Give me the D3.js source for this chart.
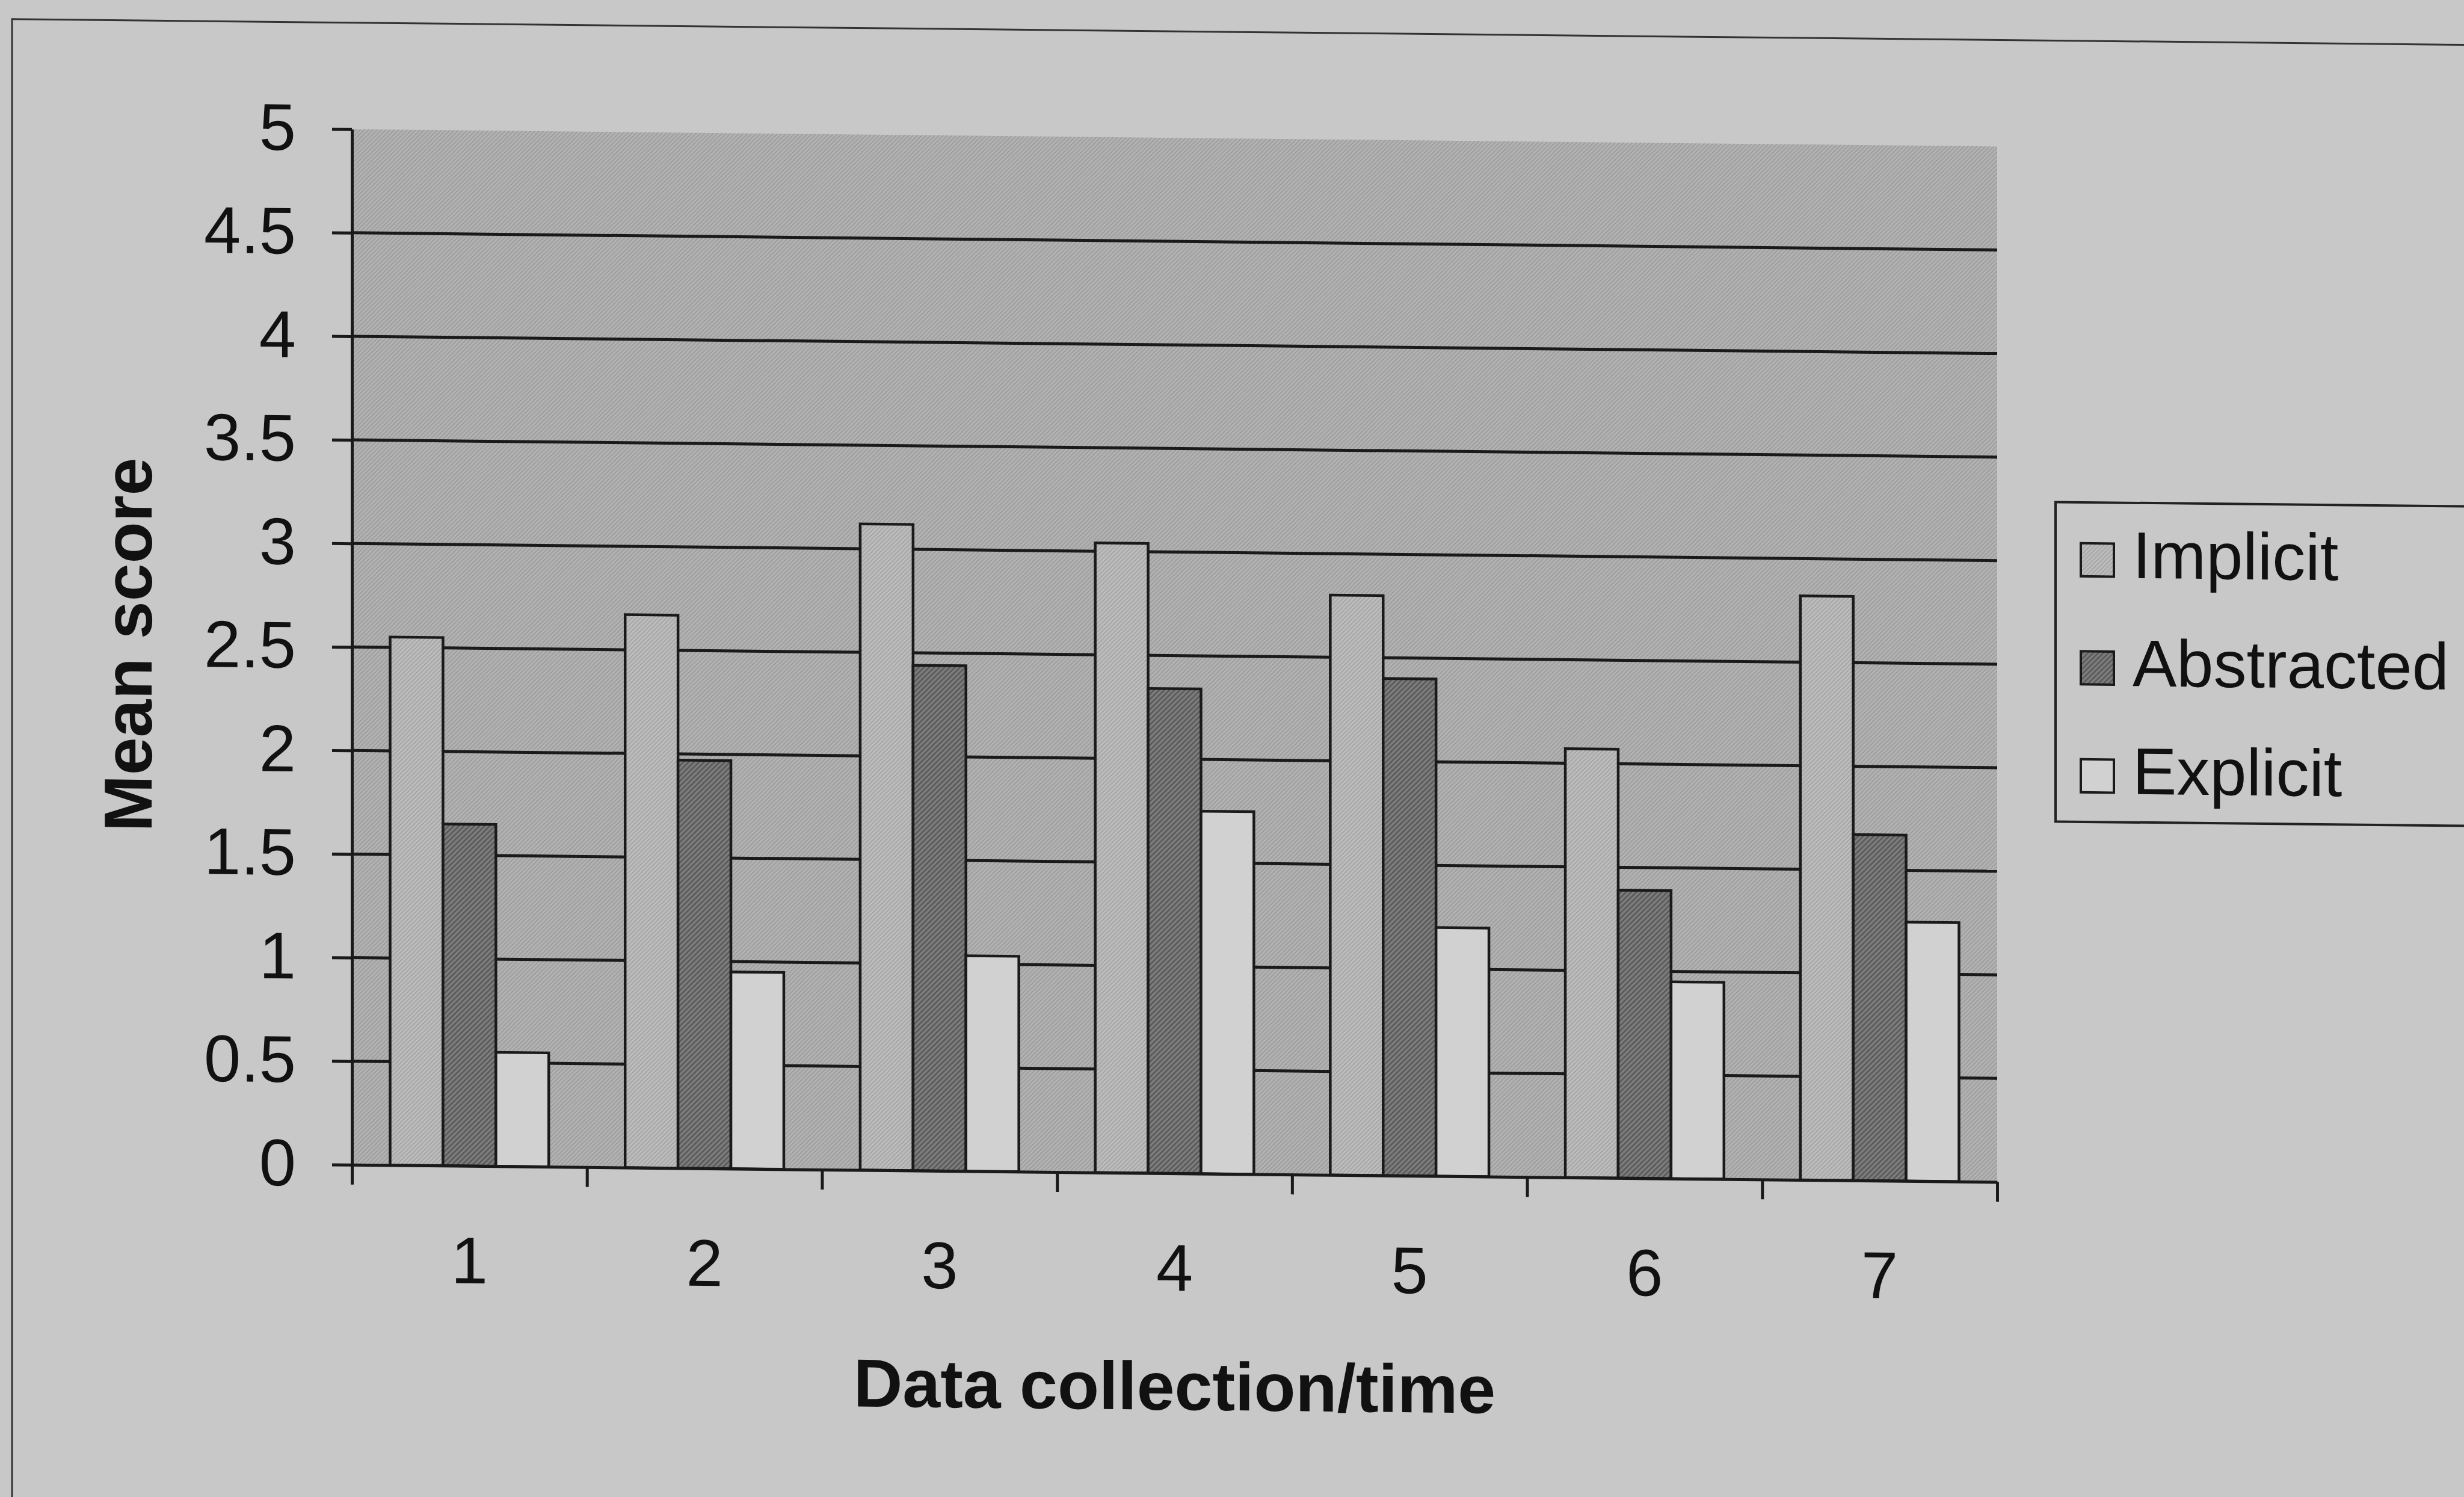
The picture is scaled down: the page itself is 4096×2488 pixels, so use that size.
<!DOCTYPE html>
<html>
<head>
<meta charset="utf-8">
<script src="https://cdn.jsdelivr.net/npm/d3@7/dist/d3.min.js"></script>
<style>
  html, body { margin: 0; padding: 0; background: #c8c8c8; overflow: hidden; }
  svg { display: block; }
</style>
</head>
<body>
<svg id="chart" width="4096" height="2488"></svg>
<script>
// Mean scores per data collection point, one array per series
const categories = ["1", "2", "3", "4", "5", "6", "7"];
const seriesNames = ["Implicit", "Abstracted", "Explicit"];
const implicitScores = [2.55, 2.67, 3.12, 3.04, 2.80, 2.07, 2.82];
const abstractedScores = [1.65, 1.97, 2.44, 2.34, 2.40, 1.39, 1.67];
const explicitScores = [0.55, 0.95, 1.04, 1.75, 1.20, 0.95, 1.25];
const yTickValues = [0, 0.5, 1, 1.5, 2, 2.5, 3, 3.5, 4, 4.5, 5];
const yTickLabels = ["0", "0.5", "1", "1.5", "2", "2.5", "3", "3.5", "4", "4.5", "5"];
const xTitle = "Data collection/time";
const yTitle = "Mean score";

const seriesValues = [implicitScores, abstractedScores, explicitScores];
const rows = categories.map((c, i) => ({
  cat: c,
  values: seriesNames.map((s, k) => ({ series: s, value: seriesValues[k][i] }))
}));

// Layout
const W = 4096, H = 2488;
const plot = { left: 585, right: 3320, top: 229, bottom: 1950 };
const FONT = "'Liberation Sans', Arial, Helvetica, sans-serif";
const INK = "#1a1a1a";
const skewDeg = 0.6;
const skewCx = 1946;

const svg = d3.select("#chart").attr("viewBox", `0 0 ${W} ${H}`);
const defs = svg.append("defs");

// Diagonal hatch fills
function hatch(id, base, line, lineW, gap) {
  const p = defs.append("pattern")
    .attr("id", id)
    .attr("patternUnits", "userSpaceOnUse")
    .attr("width", gap).attr("height", gap)
    .attr("patternTransform", "rotate(45)");
  p.append("rect").attr("width", gap).attr("height", gap).attr("fill", base);
  p.append("rect").attr("width", lineW).attr("height", gap).attr("fill", line);
}
hatch("plotFill", "#b2b2b2", "#9a9a9a", 1.6, 5);
hatch("implicitFill", "#bcbcbc", "#a2a2a2", 1.6, 5);
hatch("abstractedFill", "#7c7c7c", "#555555", 2.2, 6);
const seriesFill = {
  Implicit: "url(#implicitFill)",
  Abstracted: "url(#abstractedFill)",
  Explicit: "#d1d1d1"
};

const root = svg.append("g")
  .attr("transform", `translate(0,${-skewCx * Math.tan(skewDeg * Math.PI / 180)}) skewY(${skewDeg})`);

// Page background and outer frame
root.append("rect")
  .attr("x", -200).attr("y", -200).attr("width", W + 400).attr("height", H + 400)
  .attr("fill", "#c8c8c8");
root.append("rect")
  .attr("x", 20).attr("y", 52).attr("width", W + 200).attr("height", H + 200)
  .attr("fill", "none").attr("stroke", "#333").attr("stroke-width", 3);

// Scales
const x = d3.scaleBand().domain(categories).range([plot.left, plot.right]).padding(0);
const bw = x.bandwidth();
const xs = d3.scaleBand().domain(seriesNames).range([0.1625 * bw, 0.8375 * bw]).padding(0);
const xEdge = d3.scaleLinear().domain([0, categories.length]).range([plot.left, plot.right]);
const y = d3.scaleLinear().domain([0, 5]).range([plot.bottom, plot.top]);

// Plot area
root.append("rect")
  .attr("x", plot.left).attr("y", plot.top)
  .attr("width", plot.right - plot.left).attr("height", plot.bottom - plot.top)
  .attr("fill", "url(#plotFill)");

// Horizontal gridlines
root.append("g")
  .selectAll("line")
  .data(yTickValues.filter(v => v > 0 && v < 5))
  .join("line")
  .attr("x1", plot.left).attr("x2", plot.right)
  .attr("y1", d => y(d)).attr("y2", d => y(d))
  .attr("stroke", INK).attr("stroke-width", 5);

// Bars
root.append("g")
  .selectAll("g")
  .data(rows)
  .join("g")
  .attr("transform", d => `translate(${x(d.cat)},0)`)
  .selectAll("rect")
  .data(d => d.values)
  .join("rect")
  .attr("x", d => xs(d.series))
  .attr("width", xs.bandwidth())
  .attr("y", d => y(d.value))
  .attr("height", d => y(0) - y(d.value))
  .attr("fill", d => seriesFill[d.series])
  .attr("stroke", INK)
  .attr("stroke-width", 4.5);

// Y axis
const yAxis = root.append("g")
  .attr("transform", `translate(${plot.left},0)`)
  .call(d3.axisLeft(y)
    .tickValues(yTickValues)
    .tickFormat((d, i) => yTickLabels[i])
    .tickSize(33)
    .tickSizeOuter(0)
    .tickPadding(60));
yAxis.selectAll("path, line").attr("stroke", INK).attr("stroke-width", 5);
yAxis.selectAll("text")
  .attr("font-family", FONT).attr("font-size", 110).attr("fill", "#111");

// X axis line with tick marks at category boundaries
const xTicks = root.append("g")
  .attr("transform", `translate(0,${plot.bottom})`)
  .call(d3.axisBottom(xEdge)
    .tickValues(d3.range(categories.length + 1))
    .tickFormat("")
    .tickSize(33)
    .tickSizeOuter(0));
xTicks.selectAll("path, line").attr("stroke", INK).attr("stroke-width", 5);

// Category labels
const xLabels = root.append("g")
  .attr("transform", `translate(0,${plot.bottom})`)
  .call(d3.axisBottom(x).tickSize(0).tickPadding(117));
xLabels.select(".domain").remove();
xLabels.selectAll("text")
  .attr("font-family", FONT).attr("font-size", 110).attr("fill", "#111");

// Axis titles
root.append("text")
  .attr("x", (plot.left + plot.right) / 2)
  .attr("y", 2343)
  .attr("text-anchor", "middle")
  .attr("font-family", FONT).attr("font-size", 113).attr("font-weight", "bold")
  .attr("fill", "#111")
  .text(xTitle);

root.append("text")
  .attr("transform", `translate(252,${(plot.top + plot.bottom) / 2}) rotate(-90)`)
  .attr("text-anchor", "middle")
  .attr("font-family", FONT).attr("font-size", 113).attr("font-weight", "bold")
  .attr("fill", "#111")
  .text(yTitle);

// Legend
const legend = root.append("g");
legend.append("rect")
  .attr("x", 3417).attr("y", 819).attr("width", 1200).attr("height", 531)
  .attr("fill", "#c8c8c8").attr("stroke", "#222").attr("stroke-width", 4);
const legendRow = d3.scalePoint().domain(seriesNames).range([914, 1273]);
const items = legend.selectAll("g.item")
  .data(seriesNames)
  .join("g")
  .attr("class", "item")
  .attr("transform", d => `translate(0,${legendRow(d)})`);
items.append("rect")
  .attr("x", 3459).attr("y", -27).attr("width", 55).attr("height", 55)
  .attr("fill", d => seriesFill[d])
  .attr("stroke", INK).attr("stroke-width", 4);
items.append("text")
  .attr("x", 3545).attr("y", 30)
  .attr("font-family", FONT).attr("font-size", 110).attr("fill", "#111")
  .text(d => d);
</script>
</body>
</html>
